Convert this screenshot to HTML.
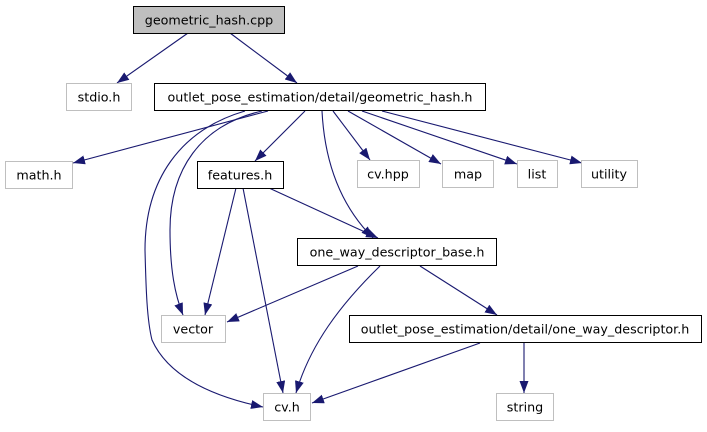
<!DOCTYPE html>
<html><head><style>
body{margin:0;background:#fff}
svg text{font-family:"DejaVu Sans","Liberation Sans",sans-serif;font-size:12.7px;text-anchor:middle}
</style></head><body>
<svg width="707" height="427" viewBox="0 0 707 427" xmlns="http://www.w3.org/2000/svg">
<defs><marker id="a" viewBox="0 0 12 9" refX="12" refY="4.5" markerWidth="12" markerHeight="9" markerUnits="userSpaceOnUse" orient="auto"><path d="M0,0L12,4.5L0,9z" fill="#191970"/></marker></defs>
<g fill="none" stroke="#191970" stroke-width="1.1" marker-end="url(#a)">
<path d="M188,33L117,83"/>
<path d="M230,33L297,83"/>
<path d="M268,111L73,163"/>
<path d="M245,111C180,130 145,180 145,250 C146,290 147,320 152,340 C170,380 220,398 263,407"/>
<path d="M262,111C200,125 170,170 170,230 C170,270 175,295 183,315"/>
<path d="M305,111L255,161"/>
<path d="M322,111C325,170 345,210 373,238"/>
<path d="M333,111L370,160"/>
<path d="M348,111L441,164"/>
<path d="M362,111L517,164"/>
<path d="M382,111L582,163"/>
<path d="M236,188L205,315"/>
<path d="M243,188L283,393"/>
<path d="M269,188L378,238"/>
<path d="M358,266L227,322"/>
<path d="M380,266C340,305 310,345 296,393"/>
<path d="M420,266L497,315"/>
<path d="M480,343L312,403"/>
<path d="M524,343L524,393"/>
</g>
<g stroke-width="1">
<rect x="133.5" y="6.5" width="151" height="27" fill="#bfbfbf" stroke="#000"/>
<rect x="66.5" y="83.5" width="65" height="27" fill="#fff" stroke="#bfbfbf"/>
<rect x="154.5" y="83.5" width="331" height="27" fill="#fff" stroke="#000"/>
<rect x="5.5" y="161.5" width="67" height="27" fill="#fff" stroke="#bfbfbf"/>
<rect x="197.5" y="161.5" width="86" height="27" fill="#fff" stroke="#000"/>
<rect x="357.5" y="160.5" width="62" height="27" fill="#fff" stroke="#bfbfbf"/>
<rect x="442.5" y="160.5" width="51" height="27" fill="#fff" stroke="#bfbfbf"/>
<rect x="517.5" y="160.5" width="40" height="27" fill="#fff" stroke="#bfbfbf"/>
<rect x="581.5" y="160.5" width="56" height="27" fill="#fff" stroke="#bfbfbf"/>
<rect x="297.5" y="238.5" width="199" height="27" fill="#fff" stroke="#000"/>
<rect x="161.5" y="315.5" width="64" height="27" fill="#fff" stroke="#bfbfbf"/>
<rect x="349.5" y="315.5" width="352" height="27" fill="#fff" stroke="#000"/>
<rect x="263.5" y="393.5" width="47" height="27" fill="#fff" stroke="#bfbfbf"/>
<rect x="496.5" y="393.5" width="57" height="27" fill="#fff" stroke="#bfbfbf"/>
</g>
<g fill="#000">
<text x="209" y="24.5">geometric_hash.cpp</text>
<text x="99" y="101.5">stdio.h</text>
<text x="320" y="101.5">outlet_pose_estimation/detail/geometric_hash.h</text>
<text x="39" y="179.5">math.h</text>
<text x="240" y="179.5">features.h</text>
<text x="388" y="178.5">cv.hpp</text>
<text x="468" y="178.5">map</text>
<text x="537" y="178.5">list</text>
<text x="609" y="178.5">utility</text>
<text x="397" y="256.5">one_way_descriptor_base.h</text>
<text x="193" y="333.5">vector</text>
<text x="525" y="333.5">outlet_pose_estimation/detail/one_way_descriptor.h</text>
<text x="287" y="411.5">cv.h</text>
<text x="525" y="411.5">string</text>
</g>
</svg>
</body></html>
